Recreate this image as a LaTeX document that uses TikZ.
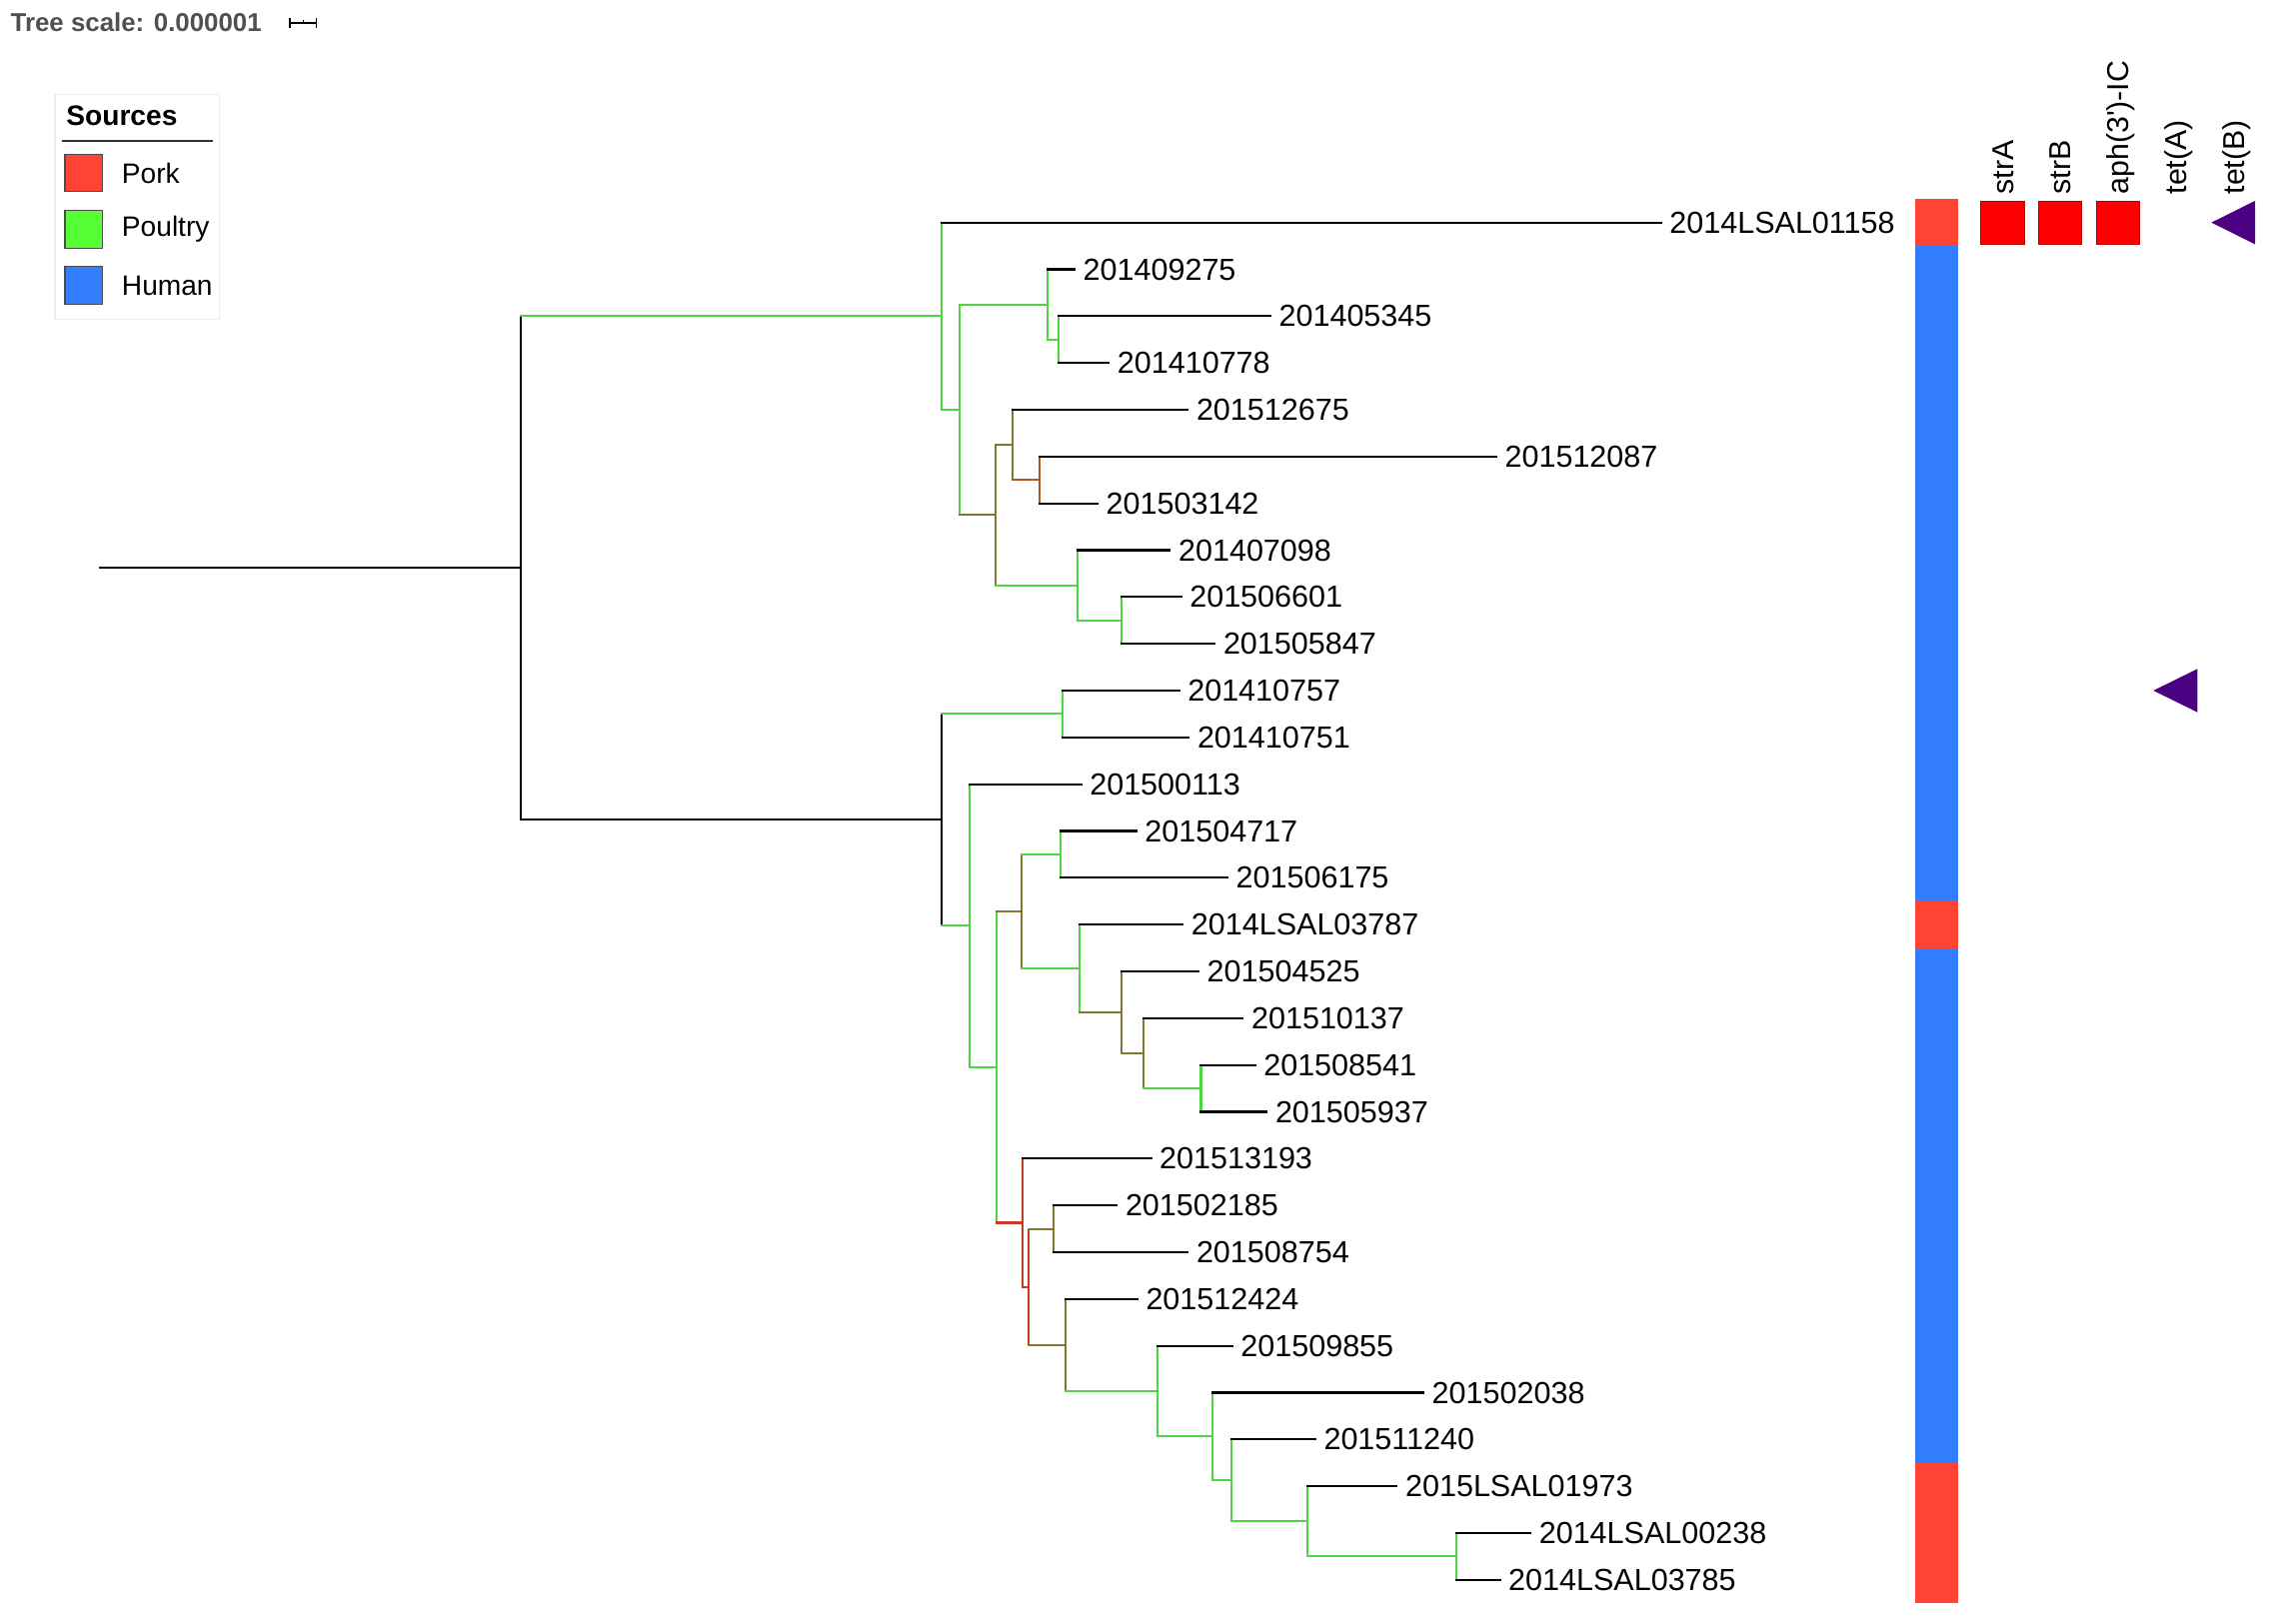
\documentclass[tikz,border=0pt]{standalone}
\usepackage{fontspec}
\setmainfont{Liberation Sans}
\usepackage{tikz}
\usetikzlibrary{calc,positioning}
\definecolor{pork}{RGB}{255,68,51}
\definecolor{poultry}{RGB}{85,255,51}
\definecolor{human}{RGB}{51,126,255}
\definecolor{treegreen}{RGB}{76,214,64}
\definecolor{treeolive}{RGB}{128,120,46}
\definecolor{treebrown}{RGB}{166,90,42}
\definecolor{treered}{RGB}{198,58,38}
\definecolor{genered}{RGB}{255,0,0}
\definecolor{tetmark}{RGB}{75,0,130}
\definecolor{scalegray}{RGB}{80,80,80}
\tikzstyle{branch}=[
  line width=.6pt,
  line cap=rect,
]
\tikzstyle{leaf}=[
  anchor=west,
  inner xsep=.08cm,
  inner ysep=0pt,
  font={\fontsize{8.68}{10}\selectfont},
]
\tikzstyle{genelabel}=[
  anchor=base west,
  rotate=90,
  inner sep=0pt,
  font={\fontsize{8.6}{10}\selectfont},
]
\tikzstyle{genebox}=[
  rectangle,
  minimum size=.433cm,
  inner sep=0pt,
  fill=genered,
  draw=genered!75!black,
  line width=.2pt,
]
\tikzstyle{legbox}=[
  rectangle,
  minimum size=.377cm,
  inner sep=0pt,
  draw=black!70,
  line width=.3pt,
]
\tikzstyle{legtext}=[
  anchor=west,
  inner sep=0pt,
  font={\fontsize{8}{9.6}\selectfont},
]
% vertical bar of a clade, then its two horizontal branches
\newcommand{\drawclade}[6]{%
  \draw[branch, #4] (#2 -| #1) -- (#3 -| #1);
  \draw[branch, #5] (#2 -| #1) -- (#2);
  \draw[branch, #6] (#3 -| #1) -- (#3);
}

\begin{document}
\begin{tikzpicture}[x=.01cm, y=-.01cm]
  \useasboundingbox (0,0) rectangle (2297,1625);
  %% scale and legend
  \node (treescale) [anchor=base west, inner sep=0pt, text=scalegray,
    font={\fontsize{7.35}{9}\selectfont\bfseries}] at (10,31.7) {Tree scale: 0.000001};
  \draw[line width=.45pt] (290,23.3) -- (316.7,23.3);
  \draw[line width=.45pt] (290,18.3) -- (290,28.3);
  \draw[line width=.45pt] (316.7,18.3) -- (316.7,28.3);
  \draw[line width=.45pt] (303.3,20.3) -- (303.3,23.3);
  \draw[draw=black!7, fill=white] (55,94.3) rectangle (219.3,319.3);
  \node (sources) [anchor=base west, inner sep=0pt,
    font={\fontsize{8}{9.6}\selectfont\bfseries}] at (65.7,126) {Sources};
  \draw[black!80, line width=.3pt] (61.7,141) -- (213.3,141);
  \node (porkbox) [legbox, fill=pork] at (83.85,173.1) {};
  \node (porktext) [legtext, right=.18cm of porkbox] {Pork};
  \node (poultrybox) [legbox, fill=poultry] at (83.85,229.3) {};
  \node (poultrytext) [legtext, right=.18cm of poultrybox] {Poultry};
  \node (humanbox) [legbox, fill=human] at (83.85,285.5) {};
  \node (humantext) [legtext, right=.18cm of humanbox] {Human};
  %% leaves
  \node (l1) [leaf] at (1661.7,222.7) {2014LSAL01158};
  \node (l2) [leaf] at (1075,269.5) {201409275};
  \node (l3) [leaf] at (1270.9,316.4) {201405345};
  \node (l4) [leaf] at (1109.2,363.2) {201410778};
  \node (l5) [leaf] at (1188.3,410) {201512675};
  \node (l6) [leaf] at (1496.9,456.9) {201512087};
  \node (l7) [leaf] at (1098,503.7) {201503142};
  \node (l8) [leaf] at (1170.4,550.5) {201407098};
  \node (l9) [leaf] at (1181.6,597.3) {201506601};
  \node (l10) [leaf] at (1215.3,644.2) {201505847};
  \node (l11) [leaf] at (1179.6,691) {201410757};
  \node (l12) [leaf] at (1189.3,737.8) {201410751};
  \node (l13) [leaf] at (1081.6,784.7) {201500113};
  \node (l14) [leaf] at (1136.7,831.5) {201504717};
  \node (l15) [leaf] at (1228,878.3) {201506175};
  \node (l16) [leaf] at (1183.2,925.2) {2014LSAL03787};
  \node (l17) [leaf] at (1199,972) {201504525};
  \node (l18) [leaf] at (1243.4,1018.8) {201510137};
  \node (l19) [leaf] at (1255.6,1065.6) {201508541};
  \node (l20) [leaf] at (1267.3,1112.5) {201505937};
  \node (l21) [leaf] at (1151.5,1159.3) {201513193};
  \node (l22) [leaf] at (1117.3,1206.1) {201502185};
  \node (l23) [leaf] at (1188.3,1253) {201508754};
  \node (l24) [leaf] at (1137.8,1299.8) {201512424};
  \node (l25) [leaf] at (1232.7,1346.6) {201509855};
  \node (l26) [leaf] at (1424,1393.5) {201502038};
  \node (l27) [leaf] at (1315.8,1440.3) {201511240};
  \node (l28) [leaf] at (1397.4,1487.1) {2015LSAL01973};
  \node (l29) [leaf] at (1531.1,1534) {2014LSAL00238};
  \node (l30) [leaf] at (1500.5,1580.8) {2014LSAL03785};
  %% inner nodes
  \coordinate (stem) at (99.6,568.3);
  \coordinate (root) at (521.2,568.3);
  \coordinate (ntop) at (942.3,316.35);
  \coordinate (nb) at (959.7,410);
  \coordinate (nc) at (1048,304.65);
  \coordinate (ne) at (1059.2,339.8);
  \coordinate (nd) at (995.9,515.4);
  \coordinate (nf) at (1013.3,445.15);
  \coordinate (nh) at (1040.3,480.3);
  \coordinate (ng) at (1078,585.6);
  \coordinate (ni) at (1121.9,620.75);
  \coordinate (nl) at (942.3,820.3);
  \coordinate (nm) at (1062.8,714.4);
  \coordinate (nn) at (969.9,926.2);
  \coordinate (no) at (996.9,1067.75);
  \coordinate (np) at (1022.4,912);
  \coordinate (nq) at (1060.7,854.9);
  \coordinate (nr) at (1079.6,969.1);
  \coordinate (ns) at (1121.9,1012.95);
  \coordinate (nt) at (1143.9,1053.9);
  \coordinate (nu) at (1201.5,1089.05);
  \coordinate (nv) at (1023,1223.5);
  \coordinate (nw) at (1028.6,1287.7);
  \coordinate (nx) at (1053.6,1229.55);
  \coordinate (ny) at (1065.8,1345.9);
  \coordinate (nz) at (1157.7,1392);
  \coordinate (naa) at (1212.8,1437.4);
  \coordinate (nab) at (1231.6,1481.3);
  \coordinate (nac) at (1308.2,1522.25);
  \coordinate (nad) at (1457.1,1557.4);
  %% branches
  \drawclade{ne}{l3}{l4}{treegreen}{black}{black}
  \drawclade{nc}{l2}{ne}{treegreen}{black}{treegreen}
  \drawclade{nh}{l6}{l7}{treebrown}{black}{black}
  \drawclade{nf}{l5}{nh}{treeolive}{black}{treebrown}
  \drawclade{ni}{l9}{l10}{treegreen}{black}{black}
  \drawclade{ng}{l8}{ni}{treegreen}{black}{treegreen}
  \drawclade{nd}{nf}{ng}{treeolive}{treeolive}{treegreen}
  \drawclade{nb}{nc}{nd}{treegreen}{treegreen}{treeolive}
  \drawclade{ntop}{l1}{nb}{treegreen}{black}{treegreen}
  \drawclade{nm}{l11}{l12}{treegreen}{black}{black}
  \drawclade{nu}{l19}{l20}{treegreen}{black}{black}
  \drawclade{nt}{l18}{nu}{treeolive}{black}{treegreen}
  \drawclade{ns}{l17}{nt}{treeolive}{black}{treeolive}
  \drawclade{nr}{l16}{ns}{treegreen}{black}{treeolive}
  \drawclade{nq}{l14}{l15}{treegreen}{black}{black}
  \drawclade{np}{nq}{nr}{treeolive}{treegreen}{treegreen}
  \drawclade{nx}{l22}{l23}{treeolive}{black}{black}
  \drawclade{nad}{l29}{l30}{treegreen}{black}{black}
  \drawclade{nac}{l28}{nad}{treegreen}{black}{treegreen}
  \drawclade{nab}{l27}{nac}{treegreen}{black}{treegreen}
  \drawclade{naa}{l26}{nab}{treegreen}{black}{treegreen}
  \drawclade{nz}{l25}{naa}{treegreen}{black}{treegreen}
  \drawclade{ny}{l24}{nz}{treeolive}{black}{treegreen}
  \drawclade{nw}{nx}{ny}{treered}{treeolive}{treeolive}
  \drawclade{nv}{l21}{nw}{treered}{black}{treered}
  \drawclade{no}{np}{nv}{treegreen}{treeolive}{treered}
  \drawclade{nn}{l13}{no}{treegreen}{black}{treegreen}
  \drawclade{nl}{nm}{nn}{black}{treegreen}{treegreen}
  \drawclade{root}{ntop}{nl}{black}{treegreen}{black}
  \draw[branch] (stem) -- (root);
  %% source strip
  \fill[pork] (1916,199.3) rectangle (1959.3,246.1);
  \fill[human] (1916,246.1) rectangle (1959.3,901.8);
  \fill[pork] (1916,901.8) rectangle (1959.3,948.6);
  \fill[human] (1916,948.6) rectangle (1959.3,1463.7);
  \fill[pork] (1916,1463.7) rectangle (1959.3,1604.2);
  %% genes
  \node (hstrA) [genelabel] at (2014.2,195) {strA};
  \node (hstrB) [genelabel] at (2071.9,195) {strB};
  \node (haph) [genelabel] at (2129.7,195) {aph(3\textquotesingle)-IC};
  \node (htetA) [genelabel] at (2187.4,195) {tet(A)};
  \node (htetB) [genelabel] at (2245.1,195) {tet(B)};
  \node (strA) [genebox] at (2003.35,222.7) {};
  \node (strB) [genebox] at (2061,222.7) {};
  \node (aph) [genebox] at (2118.85,222.7) {};
  \fill[tetmark] (2212.3,222.7) -- (2256,201) -- (2256,244.4) -- cycle;
  \fill[tetmark] (2154.3,691) -- (2198.3,669.3) -- (2198.3,712.7) -- cycle;
\end{tikzpicture}
\end{document}
